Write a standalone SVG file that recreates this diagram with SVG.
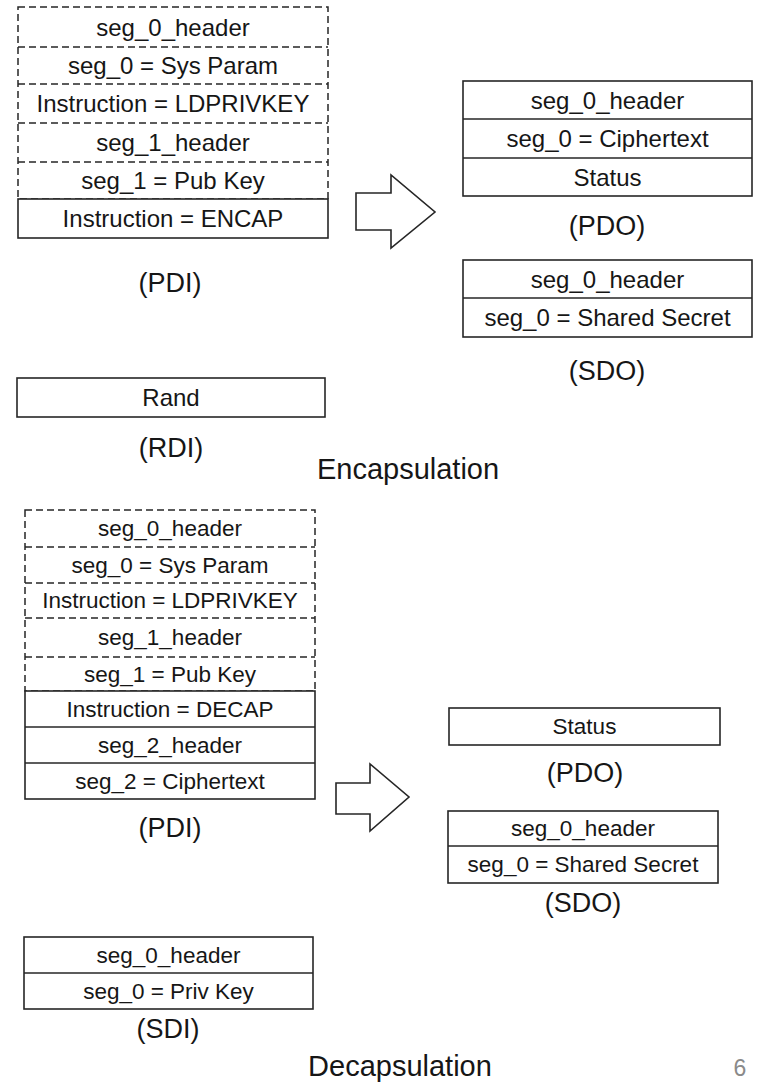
<svg xmlns="http://www.w3.org/2000/svg" width="757" height="1083" viewBox="0 0 757 1083">
<style>
  text { font-family: "Liberation Sans", Arial, sans-serif; fill: #161616; text-anchor: middle; }
  .c { dominant-baseline: central; }
  .t1 { font-size: 24px; }
  .t2 { font-size: 22.5px; }
  .lbl { font-size: 27px; }
  .ttl { font-size: 29px; }
  .pg { font-size: 23px; fill: #8a8a8a; }
  .solid { fill: #fff; stroke: #262626; stroke-width: 1.6; }
  .dash { fill: none; stroke: #262626; stroke-width: 1.5; stroke-dasharray: 7 4; }
  .ln { stroke: #262626; stroke-width: 1.6; }
  .arrow { fill: #fff; stroke: #262626; stroke-width: 1.6; stroke-linejoin: miter; }
</style>
<rect width="757" height="1083" fill="#fff"/>

<!-- Encapsulation -->
<g id="enc-pdi">
  <rect class="dash" x="18" y="7" width="310" height="192"/>
  <line class="dash" x1="18" y1="47" x2="328" y2="47"/>
  <line class="dash" x1="18" y1="84" x2="328" y2="84"/>
  <line class="dash" x1="18" y1="123" x2="328" y2="123"/>
  <line class="dash" x1="18" y1="162" x2="328" y2="162"/>
  <rect class="solid" x="18" y="199" width="310" height="39"/>
  <text class="c t1" x="173" y="27">seg_0_header</text>
  <text class="c t1" x="173" y="65.5">seg_0 = Sys Param</text>
  <text class="c t1" x="173" y="103.5">Instruction = LDPRIVKEY</text>
  <text class="c t1" x="173" y="142.5">seg_1_header</text>
  <text class="c t1" x="173" y="180.5">seg_1 = Pub Key</text>
  <text class="c t1" x="173" y="218.5">Instruction = ENCAP</text>
  <text class="lbl" x="170" y="292">(PDI)</text>
</g>

<g id="enc-pdo">
  <rect class="solid" x="463" y="81" width="289" height="115"/>
  <line class="ln" x1="463" y1="119" x2="752" y2="119"/>
  <line class="ln" x1="463" y1="158" x2="752" y2="158"/>
  <text class="c t1" x="607.5" y="100">seg_0_header</text>
  <text class="c t1" x="607.5" y="138.5">seg_0 = Ciphertext</text>
  <text class="c t1" x="607.5" y="177">Status</text>
  <text class="lbl" x="607" y="235">(PDO)</text>
</g>

<g id="enc-sdo">
  <rect class="solid" x="463" y="260" width="289" height="77"/>
  <line class="ln" x1="463" y1="298" x2="752" y2="298"/>
  <text class="c t1" x="607.5" y="279">seg_0_header</text>
  <text class="c t1" x="607.5" y="317.5">seg_0 = Shared Secret</text>
  <text class="lbl" x="607" y="380">(SDO)</text>
</g>

<g id="enc-rdi">
  <rect class="solid" x="17" y="378" width="308" height="39"/>
  <text class="c t1" x="171" y="397.5">Rand</text>
  <text class="lbl" x="171" y="457">(RDI)</text>
</g>

<g id="enc-title">
  <text class="ttl" x="408" y="479">Encapsulation</text>
</g>

<!-- Decapsulation -->
<g id="dec-pdi">
  <rect class="dash" x="25" y="510" width="290" height="181"/>
  <line class="dash" x1="25" y1="547" x2="315" y2="547"/>
  <line class="dash" x1="25" y1="583" x2="315" y2="583"/>
  <line class="dash" x1="25" y1="618" x2="315" y2="618"/>
  <line class="dash" x1="25" y1="657" x2="315" y2="657"/>
  <rect class="solid" x="25" y="691" width="290" height="108"/>
  <line class="ln" x1="25" y1="727" x2="315" y2="727"/>
  <line class="ln" x1="25" y1="763" x2="315" y2="763"/>
  <text class="c t2" x="170" y="528.5">seg_0_header</text>
  <text class="c t2" x="170" y="565">seg_0 = Sys Param</text>
  <text class="c t2" x="170" y="600.5">Instruction = LDPRIVKEY</text>
  <text class="c t2" x="170" y="637.5">seg_1_header</text>
  <text class="c t2" x="170" y="674">seg_1 = Pub Key</text>
  <text class="c t2" x="170" y="709">Instruction = DECAP</text>
  <text class="c t2" x="170" y="745">seg_2_header</text>
  <text class="c t2" x="170" y="781">seg_2 = Ciphertext</text>
  <text class="lbl" x="170" y="837">(PDI)</text>
</g>

<g id="dec-pdo">
  <rect class="solid" x="449" y="708" width="271" height="37"/>
  <text class="c t2" x="584.5" y="726.5">Status</text>
  <text class="lbl" x="585" y="782">(PDO)</text>
</g>

<g id="dec-sdo">
  <rect class="solid" x="448" y="811" width="270" height="72"/>
  <line class="ln" x1="448" y1="846" x2="718" y2="846"/>
  <text class="c t2" x="583" y="828.5">seg_0_header</text>
  <text class="c t2" x="583" y="864.5">seg_0 = Shared Secret</text>
  <text class="lbl" x="583" y="912">(SDO)</text>
</g>

<g id="dec-sdi">
  <rect class="solid" x="24" y="937" width="289" height="72"/>
  <line class="ln" x1="24" y1="973" x2="313" y2="973"/>
  <text class="c t2" x="168.5" y="955">seg_0_header</text>
  <text class="c t2" x="168.5" y="991">seg_0 = Priv Key</text>
  <text class="lbl" x="168" y="1038">(SDI)</text>
</g>

<g id="dec-title">
  <text class="ttl" x="400" y="1076">Decapsulation</text>
</g>

<g id="page-number">
  <text class="pg" x="740" y="1076">6</text>
</g>

<g id="connectors">
  <path class="arrow" d="M356,193 H391 V175 L435,212 L391,248 V230 H356 Z"/>
  <path class="arrow" d="M336,783 H370 V764 L409,797 L370,831 V814 H336 Z"/>
</g>
</svg>
